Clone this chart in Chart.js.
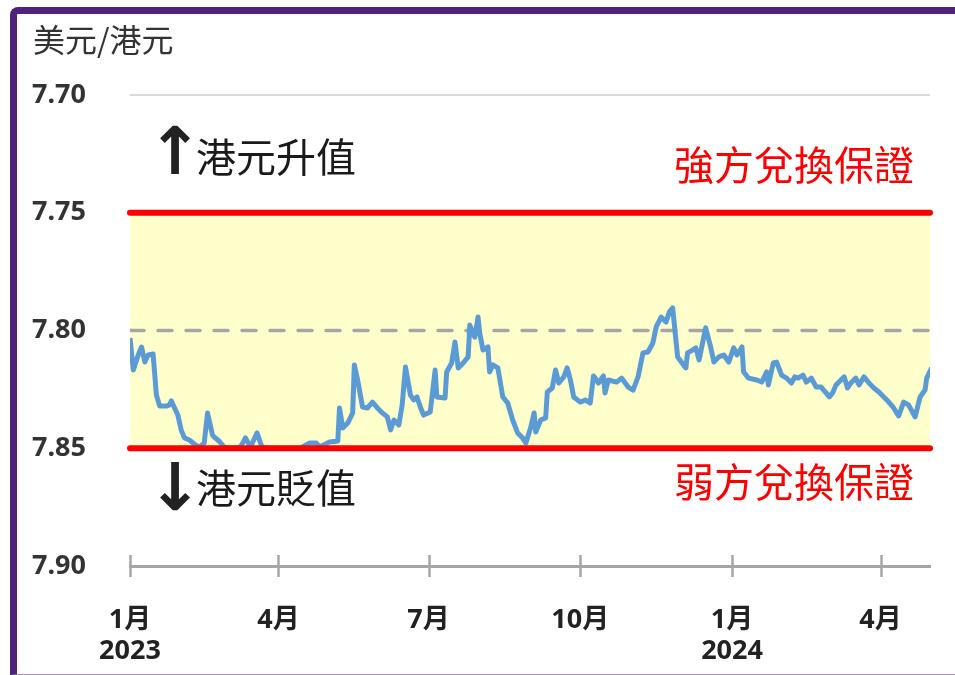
<!DOCTYPE html>
<html><head><meta charset="utf-8">
<script src="https://cdn.jsdelivr.net/npm/chart.js@4.4.1/dist/chart.umd.min.js"></script>
<style>
html,body{margin:0;padding:0;background:#fff;width:955px;height:675px;overflow:hidden;}
#frame{position:absolute;left:10px;top:7px;width:960px;height:660px;border-left:7px solid #4F2379;border-top:7px solid #4F2379;border-top-left-radius:8px;border-bottom:1px solid #a08cc0;}
canvas{position:absolute;left:0;top:0;}
</style></head><body>
<div id="frame"></div>
<canvas id="c" width="955" height="675"></canvas>
<script>
// Days since 2023-01-01 for each observation
const dayIndex = [
0,2,5,7,9,11,14,16,18,22,
24,25,29,31,33,36,39,42,45,47,
50,51,54,57,62,67,70,73,77,80,
85,91,97,103,109,113,115,121,126,127,
129,132,135,136,138,141,144,147,150,153,
156,158,160,163,165,167,170,172,174,176,
178,182,185,186,191,192,195,197,199,202,
205,206,209,211,212,214,217,218,220,223,
226,229,232,235,238,240,243,245,246,249,
252,253,256,258,260,263,265,267,269,273,
276,279,281,284,287,288,290,295,298,302,
305,308,311,314,317,319,322,325,327,329,
332,336,337,338,341,343,345,349,352,354,
357,360,363,366,368,371,372,375,380,383,
386,387,390,392,395,398,401,403,405,408,
410,413,416,419,422,424,426,428,431,433,
435,437,440,442,445,448,451,454,457,460,
463,466,469,472,476,479,482,483,486];
// USD/HKD rate
const usdHkd = [
7.8032,7.8168,7.8104,7.8070,7.8134,7.8104,7.8100,7.8274,7.8321,7.8321,
7.8316,7.8299,7.8359,7.8422,7.8456,7.8465,7.8482,7.8495,7.8478,7.8350,
7.8444,7.8452,7.8469,7.8495,7.8500,7.8495,7.8456,7.8495,7.8435,7.8495,
7.8500,7.8500,7.8500,7.8500,7.8478,7.8478,7.8495,7.8473,7.8469,7.8329,
7.8414,7.8393,7.8350,7.8146,7.8210,7.8325,7.8329,7.8304,7.8329,7.8350,
7.8367,7.8422,7.8380,7.8401,7.8316,7.8155,7.8274,7.8295,7.8282,7.8325,
7.8359,7.8346,7.8168,7.8282,7.8287,7.8176,7.8138,7.8049,7.8159,7.8138,
7.8112,7.7977,7.8028,7.7943,7.8011,7.8083,7.8070,7.8176,7.8146,7.8159,
7.8282,7.8308,7.8380,7.8435,7.8456,7.8478,7.8410,7.8350,7.8431,7.8380,
7.8371,7.8261,7.8244,7.8168,7.8223,7.8197,7.8159,7.8210,7.8282,7.8304,
7.8295,7.8308,7.8193,7.8223,7.8193,7.8265,7.8210,7.8219,7.8202,7.8240,
7.8253,7.8197,7.8095,7.8091,7.8053,7.7985,7.7943,7.7964,7.7921,7.7904,
7.8112,7.8151,7.8159,7.8095,7.8083,7.8074,7.8125,7.7989,7.8070,7.8134,
7.8112,7.8104,7.8134,7.8074,7.8104,7.8070,7.8176,7.8202,7.8210,7.8219,
7.8176,7.8231,7.8138,7.8134,7.8189,7.8202,7.8223,7.8197,7.8202,7.8189,
7.8219,7.8202,7.8240,7.8240,7.8265,7.8282,7.8265,7.8231,7.8210,7.8197,
7.8244,7.8223,7.8202,7.8231,7.8197,7.8223,7.8244,7.8261,7.8282,7.8304,
7.8329,7.8363,7.8304,7.8316,7.8367,7.8282,7.8253,7.8202,7.8159];

const strongSide = 7.75;
const weakSide = 7.85;
const pegCentre = 7.80;
const dayRange = [0, 485];
const tickDays = [0, 90, 181, 273, 365, 455];
const tickLabels = [['1月','2023'], '4月', '7月', '10月', ['1月','2024'], '4月'];
const yTicks = [7.70, 7.75, 7.80, 7.85, 7.90];
const titleText = '美元/港元';
const upText = '港元升值';
const downText = '港元貶值';
const strongText = '強方兌換保證';
const weakText = '弱方兌換保證';

const CJK = "'Noto Sans CJK TC','Noto Sans CJK SC',sans-serif";
const NUM = "'Noto Sans','Noto Sans CJK TC',sans-serif";

const flat = (v) => dayRange.map(d => ({x: d, y: v}));

const annot = {
  id: 'annot',
  afterDraw(chart) {
    const {ctx, scales: {x, y}} = chart;
    ctx.save();
    // x tick marks crossing the axis
    const ay = y.getPixelForValue(7.90);
    ctx.strokeStyle = '#A6A6A6';
    ctx.lineWidth = 2.5;
    tickDays.forEach(d => {
      const px = Math.round(x.getPixelForValue(d)) + 0.5;
      ctx.beginPath(); ctx.moveTo(px, ay - 11); ctx.lineTo(px, ay + 11); ctx.stroke();
    });
    // title
    ctx.fillStyle = '#333';
    ctx.font = "32px " + CJK;
    ctx.textBaseline = 'middle';
    ctx.textAlign = 'left';
    ctx.fillText(titleText, 33, 40);
    // up / down labels
    const yStrong = y.getPixelForValue(strongSide);
    const yWeak = y.getPixelForValue(weakSide);
    ctx.fillStyle = '#1a1a1a';
    ctx.font = "40px " + CJK;
    ctx.fillText(upText, 196, yStrong - 56);
    ctx.fillText(downText, 196, yWeak + 40);
    ctx.font = "bold 66px 'DejaVu Sans'";
    ctx.fillStyle = '#222';
    ctx.textAlign = 'center';
    ctx.fillText('↑', 175, yStrong - 56);
    ctx.fillText('↓', 175, yWeak + 45);
    // red labels
    ctx.fillStyle = '#FF0000';
    ctx.font = "40px " + CJK;
    ctx.textAlign = 'right';
    ctx.fillText(strongText, 914, yStrong - 48);
    ctx.fillText(weakText, 914, yWeak + 34);
    ctx.restore();
  }
};

new Chart(document.getElementById('c'), {
  type: 'line',
  data: {
    datasets: [
      {label: strongText, data: flat(strongSide), borderColor: '#FF0000', borderWidth: 6,
       borderCapStyle: 'round', pointRadius: 0, fill: '+1', backgroundColor: '#FFFFCC', clip: false},
      {label: weakText, data: flat(weakSide), borderColor: '#FF0000', borderWidth: 6,
       borderCapStyle: 'round', pointRadius: 0, fill: false, clip: false},
      {label: titleText, data: dayIndex.map((d, i) => ({x: d, y: usdHkd[i]})),
       borderColor: '#5B9BD5', borderWidth: 5, pointRadius: 0, tension: 0, fill: false,
       borderJoinStyle: 'round'},
      {label: 'mid', data: flat(pegCentre), borderColor: '#A6A6A6', borderWidth: 3.5,
       borderDash: [14, 14], borderCapStyle: 'round', pointRadius: 0, fill: false}
    ]
  },
  options: {
    responsive: false,
    devicePixelRatio: 1,
    animation: false,
    layout: {padding: {top: 95, right: 25, left: 0, bottom: 0}},
    plugins: {
      legend: {display: false},
      tooltip: {enabled: false},
      filler: {drawTime: 'beforeDatasetsDraw'}
    },
    scales: {
      x: {
        type: 'linear', min: dayRange[0], max: dayRange[1],
        afterBuildTicks: s => { s.ticks = tickDays.map(v => ({value: v})); },
        afterFit: s => { s.height = 109; },
        grid: {display: false},
        border: {display: true, color: '#A6A6A6', width: 3},
        ticks: {
          padding: 31,
          color: '#222',
          font: {family: NUM, size: 27, weight: 'bold', lineHeight: 1.15},
          maxRotation: 0, autoSkip: false,
          callback: (v, i) => tickLabels[i]
        }
      },
      y: {
        reverse: true, min: 7.70, max: 7.90,
        afterBuildTicks: s => { s.ticks = yTicks.map(v => ({value: v})); },
        afterFit: s => { s.width = 130; },
        grid: {drawTicks: false, lineWidth: 2,
               color: c => Math.abs(c.tick.value - 7.70) < 1e-6 ? '#D9D9D9' : 'rgba(0,0,0,0)'},
        border: {display: false},
        ticks: {
          padding: 44, color: '#333',
          font: {family: NUM, size: 27, weight: 'bold'},
          callback: v => Number(v).toFixed(2)
        }
      }
    }
  },
  plugins: [annot]
});
</script></body></html>
